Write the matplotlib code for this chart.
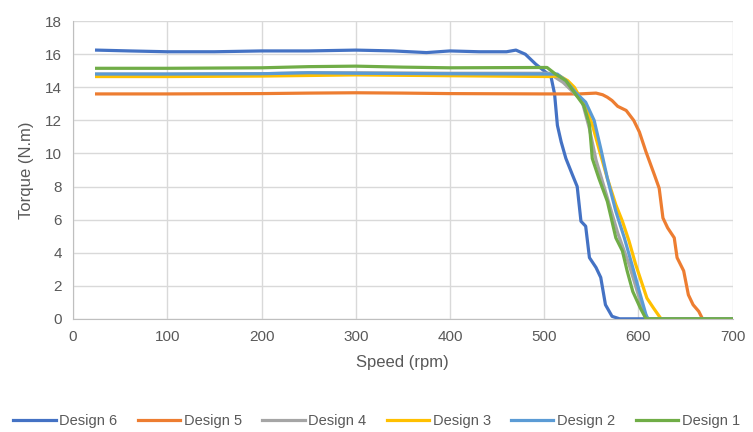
import matplotlib
matplotlib.use("Agg")
import matplotlib.pyplot as plt

plt.rcParams["font.family"] = ["Liberation Sans", "DejaVu Sans"]

# Design 6
speed6 = [25, 60, 100, 150, 200, 250, 300, 340, 375, 400, 431, 460, 470, 480, 491, 502, 507,
          511, 514, 518, 523, 530, 535, 539, 544, 548, 555, 560, 565, 572, 580, 700]
torque6 = [16.25, 16.2, 16.15, 16.15, 16.2, 16.2, 16.25, 16.2, 16.1, 16.2, 16.15, 16.15, 16.25, 16.0,
           15.4, 14.9, 14.7, 13.6, 11.7, 10.7, 9.7, 8.7, 8.0, 5.9, 5.6, 3.7, 3.1, 2.5, 0.85, 0.15, 0, 0]
# Design 5
speed5 = [25, 100, 200, 250, 300, 350, 400, 500, 537, 555, 562, 567, 572, 578, 587, 595, 601, 608,
          617, 622, 626, 631, 638, 641, 648, 653, 658, 664, 668, 700]
torque5 = [13.6, 13.6, 13.62, 13.65, 13.67, 13.65, 13.62, 13.6, 13.6, 13.65, 13.55, 13.4, 13.2, 12.85,
           12.6, 12.0, 11.3, 10.1, 8.7, 7.9, 6.1, 5.5, 4.9, 3.7, 2.9, 1.45, 0.85, 0.45, 0, 0]
# Design 4
speed4 = [25, 100, 200, 250, 300, 400, 505, 520, 540, 548, 555, 565, 578, 590, 598, 605, 610, 700]
torque4 = [14.8, 14.8, 14.82, 14.88, 14.88, 14.85, 14.85, 14.3, 13.2, 11.5, 9.6, 7.7, 5.2, 3.3, 1.8,
           0.5, 0, 0]
# Design 3
speed3 = [25, 100, 200, 300, 400, 507, 516, 525, 532, 537, 544, 551, 558, 567, 576, 583, 590, 597,
          604, 609, 616, 624, 700]
torque3 = [14.65, 14.65, 14.68, 14.75, 14.7, 14.65, 14.7, 14.4, 14.0, 13.5, 12.8, 11.75, 10.3, 8.5,
           6.9, 5.9, 4.7, 3.3, 2.1, 1.25, 0.65, 0, 0]
# Design 2
speed2 = [25, 100, 200, 250, 300, 400, 505, 514, 523, 533, 544, 553, 560, 567, 576, 585, 594, 601,
          608, 610, 700]
torque2 = [14.8, 14.8, 14.82, 14.88, 14.85, 14.82, 14.8, 14.8, 14.4, 13.7, 13.1, 12.0, 10.3, 8.5,
           6.5, 4.9, 3.1, 1.65, 0.25, 0, 0]
# Design 1
speed1 = [25, 100, 200, 250, 300, 350, 400, 503, 512, 523, 533, 542, 548, 551, 558, 567, 576, 583,
          588, 594, 602, 608, 700]
torque1 = [15.15, 15.15, 15.18, 15.25, 15.28, 15.22, 15.18, 15.2, 14.8, 14.4, 13.6, 12.9, 11.75, 9.7,
           8.5, 7.1, 4.9, 4.1, 2.9, 1.65, 0.65, 0, 0]

series = [
    ("Design 6", speed6, torque6, "#4472C4"),
    ("Design 5", speed5, torque5, "#ED7D31"),
    ("Design 4", speed4, torque4, "#A5A5A5"),
    ("Design 3", speed3, torque3, "#FFC000"),
    ("Design 2", speed2, torque2, "#5B9BD5"),
    ("Design 1", speed1, torque1, "#70AD47"),
]

txt = "#595959"
fig = plt.figure(figsize=(7.53, 4.32), dpi=100)
ax = fig.add_axes([0.097, 0.262, 0.876, 0.689])
for name, x, y, c in series:
    ax.plot(x, y, color=c, lw=2.3, label=name, solid_joinstyle="round")

ax.set_xlim(0, 700)
ax.set_ylim(0, 18)
ax.set_xticks(range(0, 701, 100))
ax.set_yticks(range(0, 19, 2))
ax.grid(True, color="#d9d9d9", lw=1)
ax.set_axisbelow(True)
for s in ("top", "right"):
    ax.spines[s].set_visible(False)
for s in ("left", "bottom"):
    ax.spines[s].set_color("#bfbfbf")
ax.tick_params(length=0, colors=txt, labelsize=11, pad=8)
ax.set_xlabel("Speed (rpm)", color=txt, fontsize=12, labelpad=8)
ax.set_ylabel("Torque (N.m)", color=txt, fontsize=12, labelpad=8)

fig.legend(*ax.get_legend_handles_labels(), loc="center", bbox_to_anchor=(0.5, 0.025), ncol=6,
           frameon=False, fontsize=10.5, labelcolor=txt, handlelength=2.9, columnspacing=1.4,
           handletextpad=0.25, borderaxespad=0, borderpad=0)

fig.savefig("out.png", dpi=100)
